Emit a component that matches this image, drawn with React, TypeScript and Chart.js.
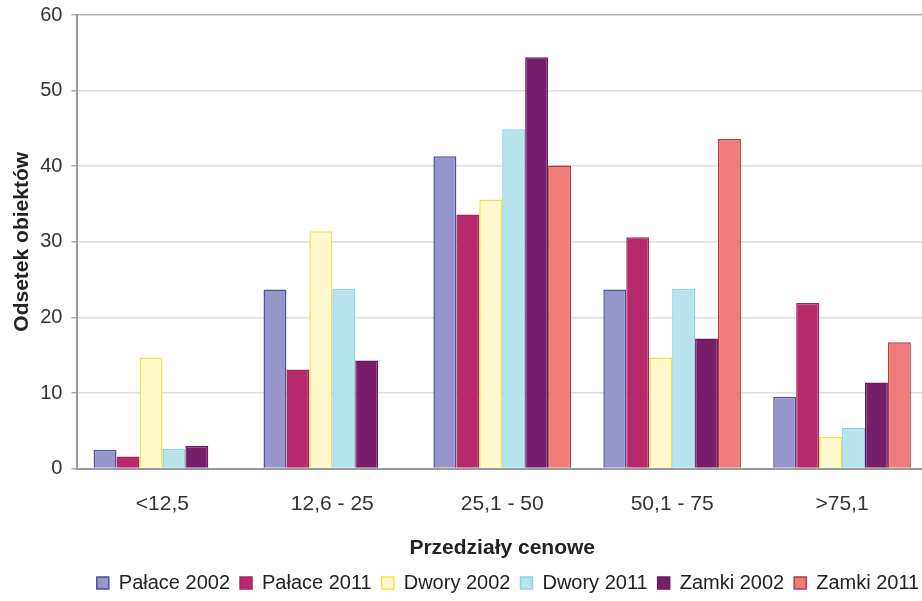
import React, { useEffect, useRef } from "react";
import { Chart, registerables } from "chart.js";

Chart.register(...registerables);

const categories = ["<12,5", "12,6 - 25", "25,1 - 50", "50,1 - 75", ">75,1"];

const seriesNames = [
  "Pałace 2002",
  "Pałace 2011",
  "Dwory 2002",
  "Dwory 2011",
  "Zamki 2002",
  "Zamki 2011",
];

const palace2002 = [2.5, 23.7, 41.3, 23.7, 9.5];
const palace2011 = [1.6, 13.1, 33.6, 30.6, 21.9];
const dwory2002 = [14.7, 31.4, 35.6, 14.7, 4.2];
const dwory2011 = [2.6, 23.8, 44.9, 23.8, 5.4];
const zamki2002 = [3.0, 14.3, 54.4, 17.2, 11.4];
const zamki2011 = [0, 0, 40.1, 43.6, 16.7];

const fills = ["#9696cb", "#b8296b", "#fdf9cc", "#b6e3ec", "#761e6a", "#f07c7c"];
const borders = ["#4f4f9a", "#a8235f", "#eee44a", "#8cd3e2", "#6a1a5f", "#b8393c"];

const FONT = "Liberation Sans, Arial, sans-serif";

// The canvas is wider than the visible frame; keep the legend centred on the visible part.
const legendShift = {
  id: "legendShift",
  afterLayout(chart: any) {
    const lg = chart.legend;
    if (!lg) return;
    const shift = 508 - (lg.left + lg.right) / 2;
    lg.left += shift;
    lg.right += shift;
  },
};

export default function App() {
  const canvasRef = useRef<HTMLCanvasElement | null>(null);

  useEffect(() => {
    document.body.style.margin = "0";
    const canvas = canvasRef.current;
    if (!canvas) return;
    const values = [palace2002, palace2011, dwory2002, dwory2011, zamki2002, zamki2011];
    const chart = new Chart(canvas, {
      type: "bar",
      data: {
        labels: categories,
        datasets: seriesNames.map((name, i) => ({
          label: name,
          data: values[i],
          backgroundColor: fills[i],
          borderColor: borders[i],
          borderWidth: 1.5,
          categoryPercentage: 0.81,
          barPercentage: 1.0,
        })),
      },
      plugins: [legendShift],
      options: {
        animation: false,
        responsive: false,
        maintainAspectRatio: false,
        layout: { padding: { left: 8, right: 129, top: 0, bottom: -2 } },
        plugins: {
          tooltip: { enabled: false },
          legend: {
            position: "bottom",
            labels: {
              boxWidth: 12,
              boxHeight: 12,
              padding: 10,
              color: "#222",
              font: { family: FONT, size: 20 },
            },
          },
        },
        scales: {
          x: {
            grid: { display: false },
            border: { display: true, color: "#999", width: 2 },
            ticks: {
              color: "#333",
              padding: 15,
              font: { family: FONT, size: 21 },
            },
            title: {
              display: true,
              text: "Przedziały cenowe",
              color: "#222",
              padding: { top: 4, bottom: 2 },
              font: { family: FONT, size: 21, weight: "bold" },
            },
          },
          y: {
            min: 0,
            max: 60,
            afterFit: (scale: any) => {
              scale.paddingTop = 15;
            },
            ticks: {
              stepSize: 10,
              color: "#333",
              padding: 9,
              font: { family: FONT, size: 20 },
            },
            grid: {
              color: (ctx: any) => (ctx.tick && ctx.tick.value === 60 ? "#b4b4b4" : "#dedede"),
              lineWidth: 1.5,
              tickLength: 6,
              tickColor: "#aaa",
            },
            border: { display: true, color: "#999", width: 2 },
            title: {
              display: true,
              text: "Odsetek obiektów",
              color: "#222",
              padding: { top: 2, bottom: -4 },
              font: { family: FONT, size: 21, weight: "bold" },
            },
          },
        },
      },
    });
    return () => chart.destroy();
  }, []);

  return (
    <div
      style={{
        position: "fixed",
        left: 0,
        top: 0,
        width: 922,
        height: 601,
        overflow: "hidden",
        background: "#fff",
      }}
    >
      <canvas ref={canvasRef} width={1056} height={601} style={{ display: "block" }} />
    </div>
  );
}
